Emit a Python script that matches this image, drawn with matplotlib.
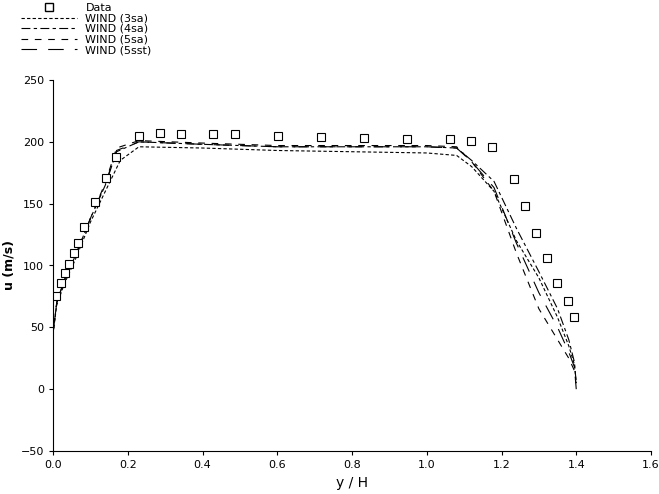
import matplotlib
matplotlib.use("Agg")
import matplotlib.pyplot as plt
from matplotlib.lines import Line2D

data_x = [0.008,0.021,0.032,0.043,0.056,0.067,0.083,0.112,0.142,0.169,0.23,0.286,0.342,0.428,0.487,0.602,0.717,0.832,0.947,1.062,1.118,1.175,1.233,1.263,1.292,1.322,1.348,1.378,1.394]
data_y = [75,86,94,101,110,118,131,151,171,188,205,207,206,206,206,205,204,203,202,202,201,196,170,148,126,106,86,71,58]

x_3sa = [0.0,0.01,0.03,0.06,0.10,0.14,0.18,0.23,0.4,0.6,0.8,1.0,1.08,1.12,1.18,1.24,1.30,1.35,1.38,1.395,1.4]
y_3sa = [45,68,85,105,135,160,185,196,195,193,192,191,189,180,160,120,90,58,35,20,5]
x_4sa = [0.0,0.01,0.03,0.06,0.10,0.14,0.17,0.23,0.4,0.6,0.8,1.0,1.08,1.12,1.18,1.24,1.30,1.35,1.38,1.395,1.4]
y_4sa = [45,70,88,108,138,165,192,200,198,196,196,196,195,185,168,130,95,65,40,22,5]
x_5sa = [0.0,0.01,0.03,0.06,0.10,0.14,0.17,0.23,0.4,0.6,0.8,1.0,1.08,1.12,1.18,1.24,1.30,1.35,1.38,1.395,1.4]
y_5sa = [45,70,88,108,138,167,195,201,199,197,197,197,196,184,160,110,65,40,25,15,3]
x_5sst = [0.0,0.01,0.03,0.06,0.10,0.14,0.17,0.23,0.4,0.6,0.8,1.0,1.08,1.12,1.18,1.24,1.30,1.35,1.38,1.395,1.4]
y_5sst = [45,70,88,108,138,166,193,200,198,196,196,196,195,184,163,118,78,50,30,18,0]

fig = plt.figure(figsize=(6.59,4.94), dpi=100)
ax = fig.add_axes([53/659, 1-451/494, (651-53)/659, (451-80)/494])
ax.plot(x_3sa, y_3sa, color='k', lw=0.8, ls=(0,(3,2)))
ax.plot(x_4sa, y_4sa, color='k', lw=0.8, ls=(0,(8,3,3,3)))
ax.plot(x_5sa, y_5sa, color='k', lw=0.8, ls=(0,(6,6)))
ax.plot(x_5sst, y_5sst, color='k', lw=0.8, ls=(0,(14,10)))
ax.plot(data_x, data_y, ls='none', marker='s', ms=6, mfc='white', mec='k', mew=0.8)
ax.set_xlim(0,1.6); ax.set_ylim(-50,250)
ax.set_xticks([0,0.2,0.4,0.6,0.8,1.0,1.2,1.4,1.6])
ax.set_xticklabels(['0.0','0.2','0.4','0.6','0.8','1.0','1.2','1.4','1.6'])
ax.set_yticks(range(-50,251,50))
ax.tick_params(labelsize=8, direction='out', length=3)
for s in ['top','right']:
    ax.spines[s].set_visible(False)
ax.set_xlabel('y / H', fontsize=10)
ax.set_ylabel('u (m/s)', fontsize=9, fontweight='bold')
handles = [Line2D([],[],ls='none',marker='s',ms=6,mfc='white',mec='k'),
           Line2D([],[],color='k',lw=0.8,ls=(0,(3,2))),
           Line2D([],[],color='k',lw=0.8,ls=(0,(8,3,3,3))),
           Line2D([],[],color='k',lw=0.8,ls=(0,(6,6))),
           Line2D([],[],color='k',lw=0.8,ls=(0,(14,10)))]
fig.legend(handles, ['Data','WIND (3sa)','WIND (4sa)','WIND (5sa)','WIND (5sst)'],
           loc='upper left', bbox_to_anchor=(0.02,1.01), frameon=False, fontsize=8,
           handlelength=5, labelspacing=0.05, borderpad=0.2)
fig.savefig('out.png', dpi=100)
